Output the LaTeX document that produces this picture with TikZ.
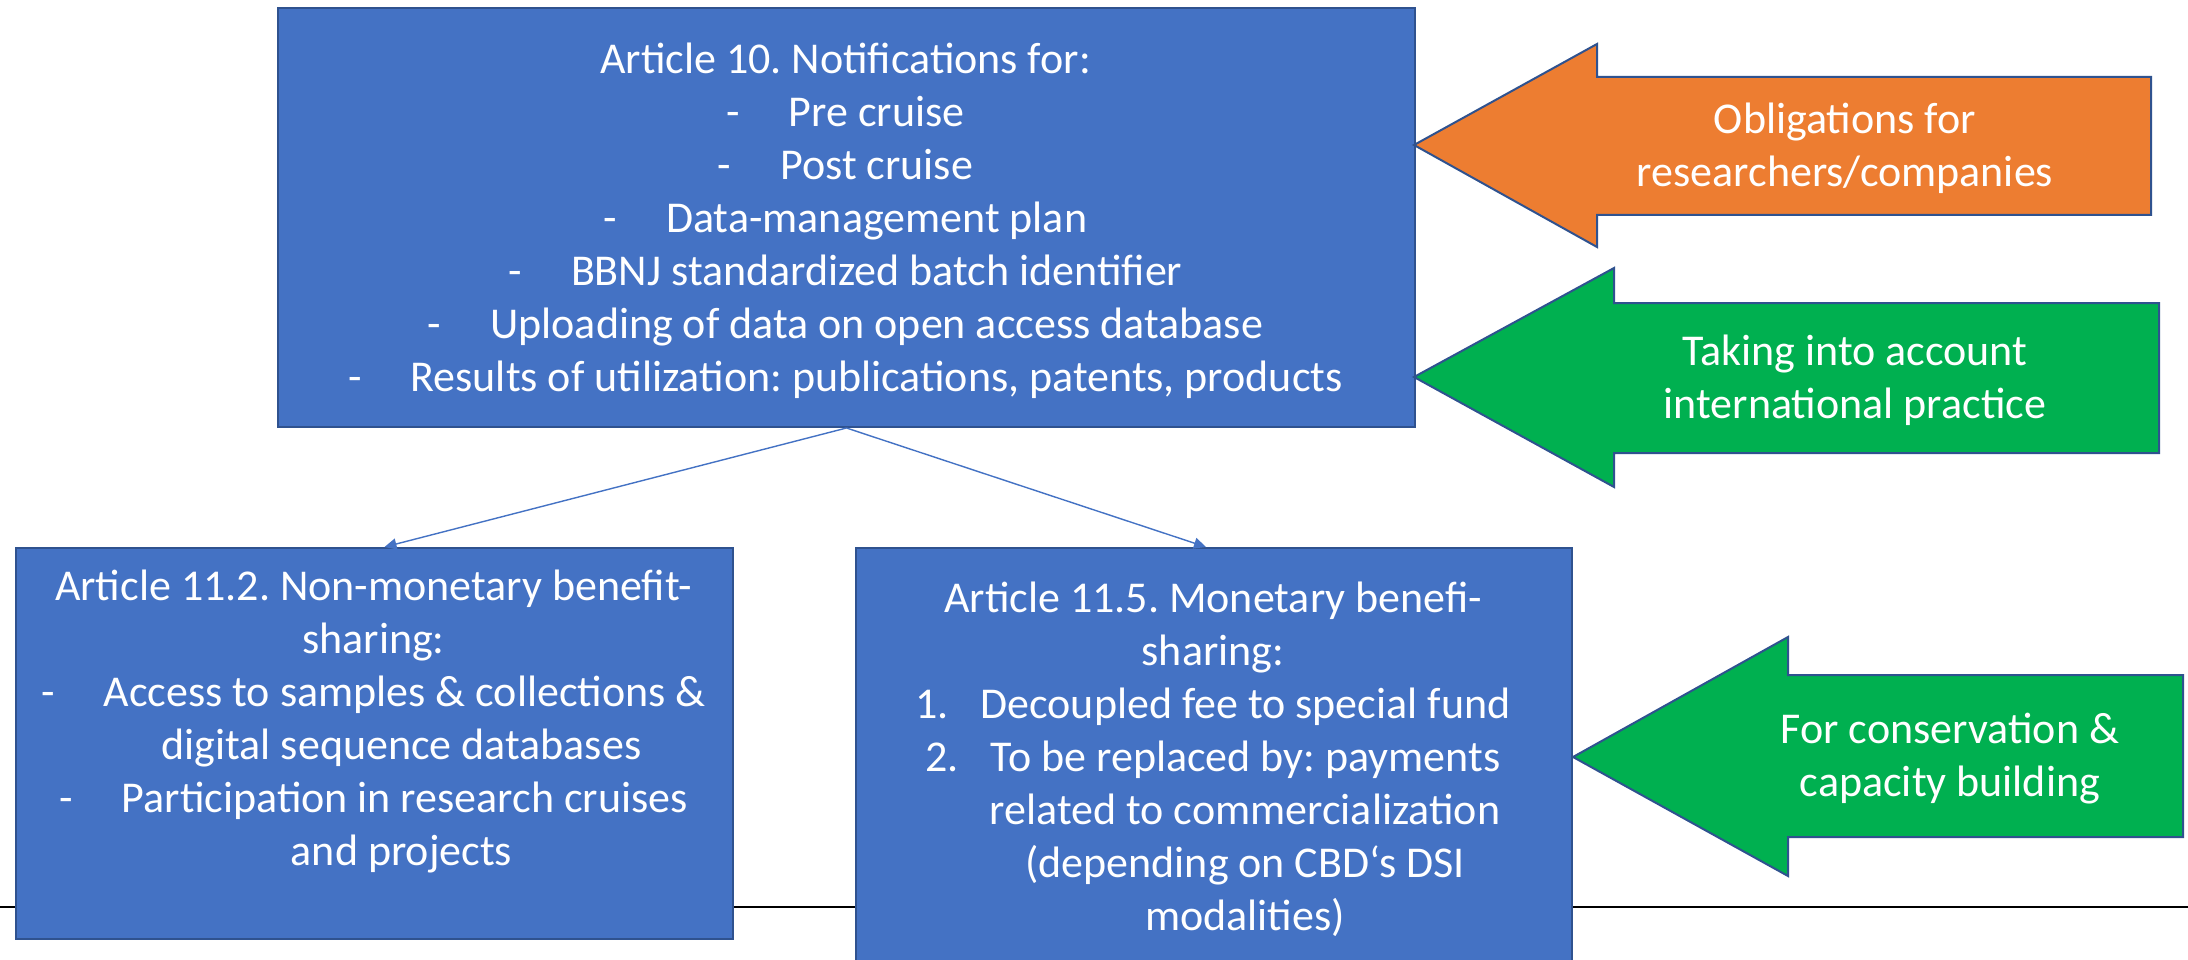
\documentclass[tikz,border=0pt]{standalone}
\usepackage{fontspec}
\setmainfont{Carlito}
\usetikzlibrary{arrows.meta,calc}
\definecolor{boxblue}{HTML}{4472C4}
\definecolor{edgeblue}{HTML}{2F528F}
\definecolor{orng}{HTML}{ED7D31}
\definecolor{grn}{HTML}{00B050}
\newcommand\dashitem{\makebox[1.42em][l]{-}}
\newcommand\numitem[1]{\makebox[1.48em][l]{#1}}
\frenchspacing
\begin{document}
\begin{tikzpicture}[x=1pt,y=-1pt,
  panel/.style={draw=edgeblue, line width=2pt, fill=boxblue, inner sep=0pt, anchor=north west},
  conn/.style={draw=boxblue, line width=1.4pt, -{Triangle[length=12pt,width=11pt]}},
  arrowshape/.style={draw=edgeblue, line width=2pt, line join=miter},
  txt/.style={text=white, align=center, inner sep=0pt, anchor=north, font=\fontsize{44}{53}\selectfont}]
\useasboundingbox (0,0) rectangle (2188,960);
\fill[white] (0,0) rectangle (2188,960);

% base line
\coordinate (lineL) at (0,907);
\coordinate (lineR) at (2188,907);
\draw[black, line width=1.6pt] (lineL) -- (lineR);

% boxes
\node[panel, minimum width=1137pt, minimum height=419pt] (top) at (277,7) {};
\node[panel, minimum width=717pt, minimum height=391pt] (left) at (15,547) {};
\node[panel, minimum width=716pt, minimum height=440pt] (mid) at (855,547) {};

% connectors
\draw[conn] (top.south) -- ($(left.north)+(10,0)$);
\draw[conn] (top.south) -- ($(mid.north)+(-8,0)$);

% block arrows
\filldraw[arrowshape, fill=orng] (1414,145) -- (1597,44) -- (1597,77) -- (2151,77) -- (2151,215) -- (1597,215) -- (1597,247) -- cycle;
\filldraw[arrowshape, fill=grn] (1414,377) -- (1614,268) -- (1614,303) -- (2159,303) -- (2159,453) -- (1614,453) -- (1614,487) -- cycle;
\filldraw[arrowshape, fill=grn] (1573,757) -- (1788,637) -- (1788,675) -- (2183,675) -- (2183,837) -- (1788,837) -- (1788,876) -- cycle;

% texts
\node[txt] (toptext) at (845.5,36) {\strut Article 10. Notifications for:\\
\dashitem Pre cruise\\
\dashitem Post cruise\\
\dashitem Data-management plan\\
\dashitem BBNJ standardized batch identifier\\
\dashitem Uploading of data on open access database\\
\dashitem Results of utilization: publications, patents, products};

\node[txt] (lefttext) at (373.5,563) {\strut Article 11.2. Non-monetary benefit-\\
sharing:\\
\dashitem Access to samples \& collections \&\\
\hspace*{56pt}digital sequence databases\\
\dashitem Participation in research cruises\\
\hspace*{56pt}and projects};

\node[txt] (midtext) at (1213,575) {\strut Article 11.5. Monetary benefi-\\
sharing:\\
\numitem{1.}Decoupled fee to special fund\\
\numitem{2.}To be replaced by: payments\\
\hspace*{64pt}related to commercialization\\
\hspace*{64pt}(depending on CBD‘s DSI\\
\hspace*{64pt}modalities)};

\node[txt] (oblig) at (1845,96) {\strut Obligations for\\ researchers/companies};
\node[txt] (intl) at (1855,328) {\strut Taking into account\\ international practice};
\node[txt] (cons) at (1950,706) {\strut For conservation \&\\ capacity building};
\end{tikzpicture}
\end{document}
